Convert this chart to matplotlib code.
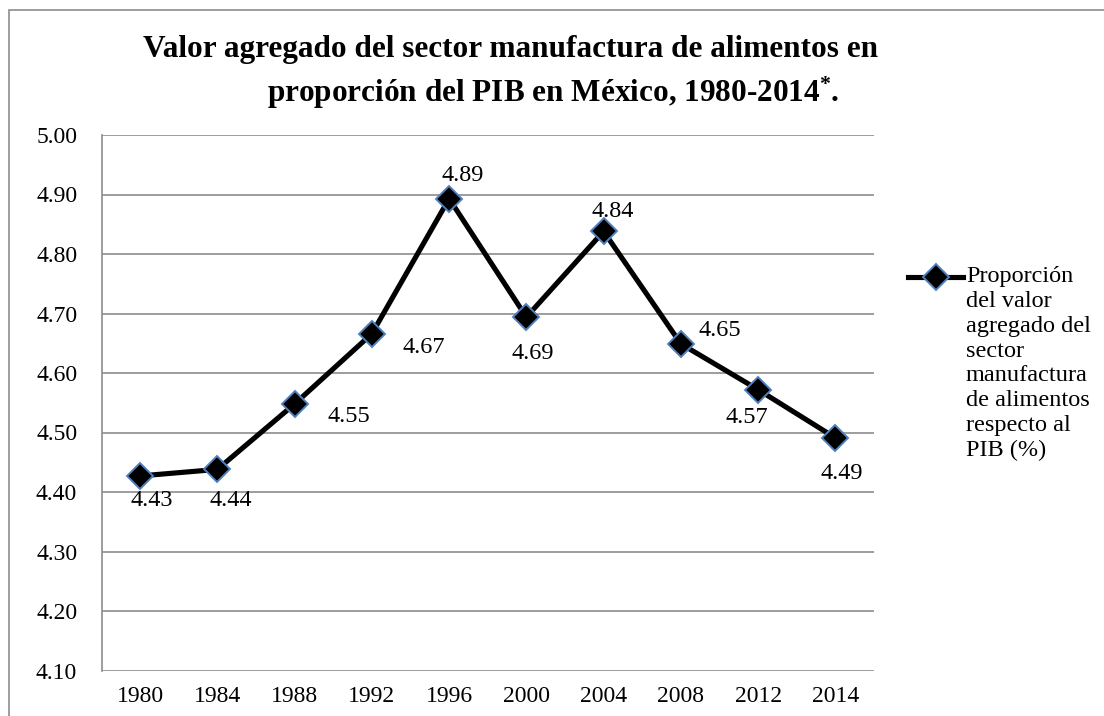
import matplotlib
matplotlib.use("Agg")
import matplotlib.pyplot as plt
from matplotlib.lines import Line2D
from matplotlib.patches import Rectangle

plt.rcParams['font.family'] = ['Liberation Serif', 'DejaVu Serif']
plt.rcParams['mathtext.fontset'] = 'custom'
plt.rcParams['mathtext.rm'] = 'Liberation Serif:bold'
plt.rcParams['mathtext.default'] = 'rm'

years = ['1980', '1984', '1988', '1992', '1996', '2000', '2004', '2008', '2012', '2014']
values = [4.427, 4.438, 4.548, 4.666, 4.893, 4.694, 4.838, 4.649, 4.572, 4.491]
labels = ['4.43', '4.44', '4.55', '4.67', '4.89', '4.69', '4.84', '4.65', '4.57', '4.49']
y_ticks = [4.10, 4.20, 4.30, 4.40, 4.50, 4.60, 4.70, 4.80, 4.90, 5.00]

title_1 = "Valor agregado del sector manufactura de alimentos en"
title_2 = r"proporción del PIB en México, 1980-2014$^{*}$."
legend_text = "Proporción\ndel valor\nagregado del\nsector\nmanufactura\nde alimentos\nrespecto al\nPIB (%)"

# label offsets in pixels (dx, dy)
label_offsets = [(12, -25), (13, -31), (54, -13), (52, -14), (14, 23),
                 (6, -36), (9, 20), (39, 13), (-11, -28), (6, -36)]

W, H = 1104, 716
fig = plt.figure(figsize=(W / 100, H / 100), dpi=100)

left, right, top, bottom = 101.5, 874, 135, 670.5
ax = fig.add_axes([left / W, 1 - bottom / H, (right - left) / W, (bottom - top) / H])

x = list(range(len(years)))
line_col = 'black'
edge_col = '#4f81bd'
grid_col = '#8c8c8c'
fs = 17.5

ax.plot(x, values, color=line_col, lw=3.7, marker='D', markersize=13,
        markerfacecolor='black', markeredgecolor=edge_col, markeredgewidth=1.4,
        zorder=3, clip_on=False)

for xi, v, lab, (dx, dy) in zip(x, values, labels, label_offsets):
    ax.annotate(lab, (xi, v), xytext=(dx, dy), textcoords='offset pixels',
                ha='center', va='center', fontsize=fs)

ax.set_xlim(-0.5, len(years) - 0.5)
ax.set_ylim(4.10, 5.00)
ax.set_yticks(y_ticks)
ax.set_yticklabels([f"{t:.2f}" for t in y_ticks])
ax.set_xticks(x)
ax.set_xticklabels(years)
ax.tick_params(axis='both', length=0, labelsize=17)
ax.tick_params(axis='y', pad=17.5)
ax.tick_params(axis='x', pad=11)

ax.grid(axis='y', color=grid_col, lw=1.2)
ax.set_axisbelow(True)
for side in ['top', 'right', 'bottom']:
    ax.spines[side].set_visible(False)
ax.spines['left'].set_color(grid_col)
ax.spines['left'].set_linewidth(1.2)

# title
fig.text(511 / W, 1 - 50 / H, title_1, ha='center', va='center',
         fontsize=22.5, fontweight='bold')
fig.text(553 / W, 1 - 93 / H, title_2, ha='center', va='center',
         fontsize=22.5, fontweight='bold')

# legend drawn by hand so the handle sits on the first text line
ly = 1 - 277 / H
fig.add_artist(Line2D([908 / W, 963 / W], [ly, ly], color=line_col, lw=3.7,
                      transform=fig.transFigure))
fig.add_artist(Line2D([936 / W], [ly], marker='D', markersize=13,
                      markerfacecolor='black', markeredgecolor=edge_col,
                      markeredgewidth=1.4, transform=fig.transFigure))
fig.text(966 / W, 1 - 266 / H, legend_text, ha='left', va='top',
         fontsize=fs, linespacing=1.24)

# outer chart frame
fig.add_artist(Rectangle((9 / W, -0.1), 1.2, 1.1 - 10 / H, fill=False,
                         edgecolor='#8c8c8c', lw=1.2, transform=fig.transFigure))

fig.savefig('out.png', dpi=100)
